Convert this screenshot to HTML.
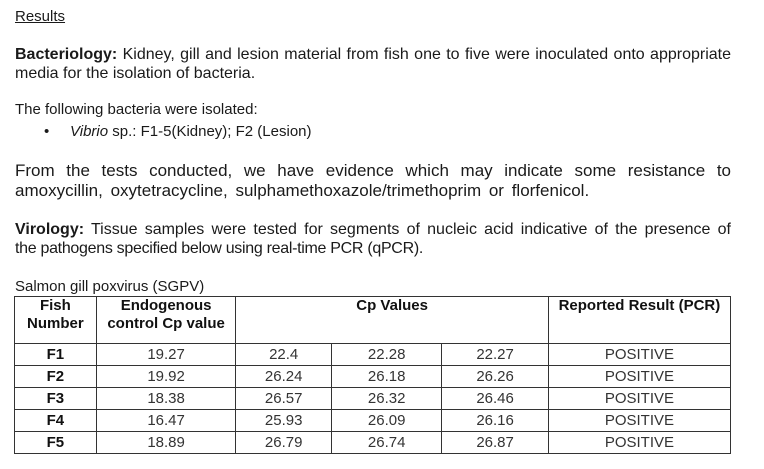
<!DOCTYPE html>
<html><head><style>
body{margin:0;width:764px;height:469px;background:#fff;position:relative;font-family:"Liberation Sans",Arial,sans-serif;color:#1a1a1a;overflow:hidden}
.l{position:absolute;left:15px;white-space:nowrap;font-size:15px;line-height:18px}
.j{width:716px;text-align:justify;text-align-last:justify;white-space:normal}
table{position:absolute;left:14px;top:296px;border-collapse:collapse;font-size:15px;width:717px}
td{border:1.5px solid #333;text-align:center;padding:0;line-height:18px;height:21px;color:#333}
td.b{font-weight:bold;color:#111}
</style></head><body>
<div class="l" style="top:8px;text-decoration:underline">Results</div>
<div class="l j" style="top:46px;font-size:16px;letter-spacing:0px"><b>Bacteriology:</b> Kidney, gill and lesion material from fish one to five were inoculated onto appropriate</div>
<div class="l" style="top:65px;font-size:16px">media for the isolation of bacteria.</div>
<div class="l" style="top:101px">The following bacteria were isolated:</div>
<div class="l" style="top:123px;left:44px">•</div>
<div class="l" style="top:123px;left:70px"><i>Vibrio</i> sp.: F1-5(Kidney); F2 (Lesion)</div>
<div class="l j" style="top:161px;font-size:17px;line-height:20px">From the tests conducted, we have evidence which may indicate some resistance to</div>
<div class="l" style="top:181px;font-size:17px;line-height:20px;word-spacing:3px">amoxycillin, oxytetracycline, sulphamethoxazole/trimethoprim or florfenicol.</div>
<div class="l j" style="top:221px;font-size:16px"><b>Virology:</b> Tissue samples were tested for segments of nucleic acid indicative of the presence of</div>
<div class="l" style="top:240px;font-size:16px;letter-spacing:-0.3px">the pathogens specified below using real-time PCR (qPCR).</div>
<div class="l" style="top:278px">Salmon gill poxvirus (SGPV)</div>
<table>
<tr style="height:47px"><td class="b" style="width:81px;vertical-align:top">Fish<br>Number</td><td class="b" style="width:139px;vertical-align:top">Endogenous<br>control Cp value</td><td class="b" colspan="3" style="vertical-align:top">Cp Values</td><td class="b" style="width:182px;vertical-align:top">Reported Result (PCR)</td></tr>
<tr><td class="b">F1</td><td>19.27</td><td style="width:95px">22.4</td><td style="width:110px">22.28</td><td style="width:106px">22.27</td><td>POSITIVE</td></tr>
<tr><td class="b">F2</td><td>19.92</td><td>26.24</td><td>26.18</td><td>26.26</td><td>POSITIVE</td></tr>
<tr><td class="b">F3</td><td>18.38</td><td>26.57</td><td>26.32</td><td>26.46</td><td>POSITIVE</td></tr>
<tr><td class="b">F4</td><td>16.47</td><td>25.93</td><td>26.09</td><td>26.16</td><td>POSITIVE</td></tr>
<tr><td class="b">F5</td><td>18.89</td><td>26.79</td><td>26.74</td><td>26.87</td><td>POSITIVE</td></tr>
</table>
</body></html>
